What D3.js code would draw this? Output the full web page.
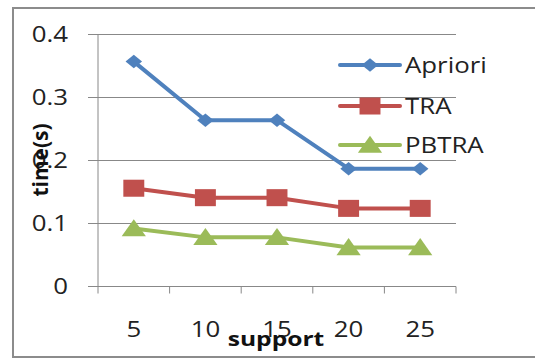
<!DOCTYPE html>
<html><head><meta charset="utf-8">
<script src="https://cdn.jsdelivr.net/npm/d3@7"></script>
<style>body{margin:0;background:#fff}svg{display:block}</style>
</head><body>
<script>
const categories = ["5","10","15","20","25"];
const apriori = [0.357, 0.264, 0.264, 0.187, 0.187];
const tra = [0.156, 0.141, 0.141, 0.124, 0.124];
const pbtra = [0.092, 0.078, 0.078, 0.062, 0.062];
const yTicks = [0, 0.1, 0.2, 0.3, 0.4];
const seriesNames = ["Apriori","TRA","PBTRA"];

const W = 535, H = 359;
const SX = 1.23; // horizontal stretch of the original picture
const svg = d3.select("body").append("svg").attr("width", W).attr("height", H);
const font = "'Open Sans', sans-serif";

svg.append("rect").attr("x",13).attr("y",8).attr("width",540).attr("height",349)
  .attr("fill","none").attr("stroke","#8c8c8c").attr("stroke-width",2);

const x = d3.scaleBand().domain(categories).range([98, 456]);
const y = d3.scaleLinear().domain([0, 0.4]).range([286.5, 34.5]);

svg.append("g").selectAll("line").data(yTicks).join("line")
  .attr("x1", 88).attr("x2", 456)
  .attr("y1", d => y(d)).attr("y2", d => y(d))
  .attr("stroke", "#888").attr("stroke-width", 1);

svg.append("line").attr("x1",98).attr("x2",98).attr("y1",y(0.4)).attr("y2",y(0))
  .attr("stroke","#888").attr("stroke-width",1);

const xt = categories.map(c => x(c)).concat([x.range()[1]]);
svg.append("g").selectAll("line").data(xt).join("line")
  .attr("x1", d => d).attr("x2", d => d).attr("y1", y(0)).attr("y2", y(0)+7)
  .attr("stroke","#888").attr("stroke-width",1);

function txt(g, tx, ty, s, anchor, opts = {}) {
  return g.append("text")
    .attr("transform", `translate(${tx},${ty}) scale(${SX},1)`)
    .attr("text-anchor", anchor).attr("font-family", font)
    .attr("font-size", opts.size || 21).attr("font-weight", opts.weight || "normal")
    .attr("fill", opts.fill || "#222").attr("dy", opts.dy || null).text(s);
}

yTicks.forEach(d => txt(svg, 68, y(d), d === 0 ? "0" : d3.format(".1f")(d), "end", {dy: "0.36em"}));
categories.forEach(c => txt(svg, x(c) + x.bandwidth()/2, 337, c, "middle"));

txt(svg, 276, 346, "support", "middle", {weight: "bold", fill: "#111", size: 20});
svg.append("text").attr("transform","translate(48,160) rotate(-90)")
  .attr("text-anchor","middle").attr("font-family",font).attr("font-size",21)
  .attr("font-weight","bold").attr("fill","#111").text("time(s)");

const colors = ["#4F81BD","#C0504D","#9BBB59"];
const symbols = [d3.symbolDiamond2, d3.symbolSquare, d3.symbolTriangle];
const sizes = [115, 290, 168];
const data = [apriori, tra, pbtra];
const cx = c => x(c) + x.bandwidth()/2;
const line = d3.line().x((d,i) => cx(categories[i])).y(d => y(d));

data.forEach((s, k) => {
  svg.append("path").datum(s).attr("d", line).attr("fill","none")
    .attr("stroke", colors[k]).attr("stroke-width", 4).attr("stroke-linejoin","round");
  svg.append("g").selectAll("path").data(s).join("path")
    .attr("transform", (d,i) => `translate(${cx(categories[i])},${y(d) + (k===2?2:0)}) scale(${SX},1)`)
    .attr("d", d3.symbol().type(symbols[k]).size(sizes[k]))
    .attr("fill", colors[k]);
});

const ly = [65, 106, 145];
seriesNames.forEach((n, k) => {
  const g = svg.append("g");
  g.append("line").attr("x1",340).attr("x2",400).attr("y1",ly[k]).attr("y2",ly[k])
    .attr("stroke",colors[k]).attr("stroke-width",4).attr("stroke-linecap","round");
  g.append("path").attr("transform",`translate(370,${ly[k] + (k===2?2:0)}) scale(${SX},1)`)
    .attr("d", d3.symbol().type(symbols[k]).size(sizes[k])).attr("fill",colors[k]);
  txt(g, 405, ly[k], n, "start", {dy: "0.36em"});
});
</script>
</body></html>
